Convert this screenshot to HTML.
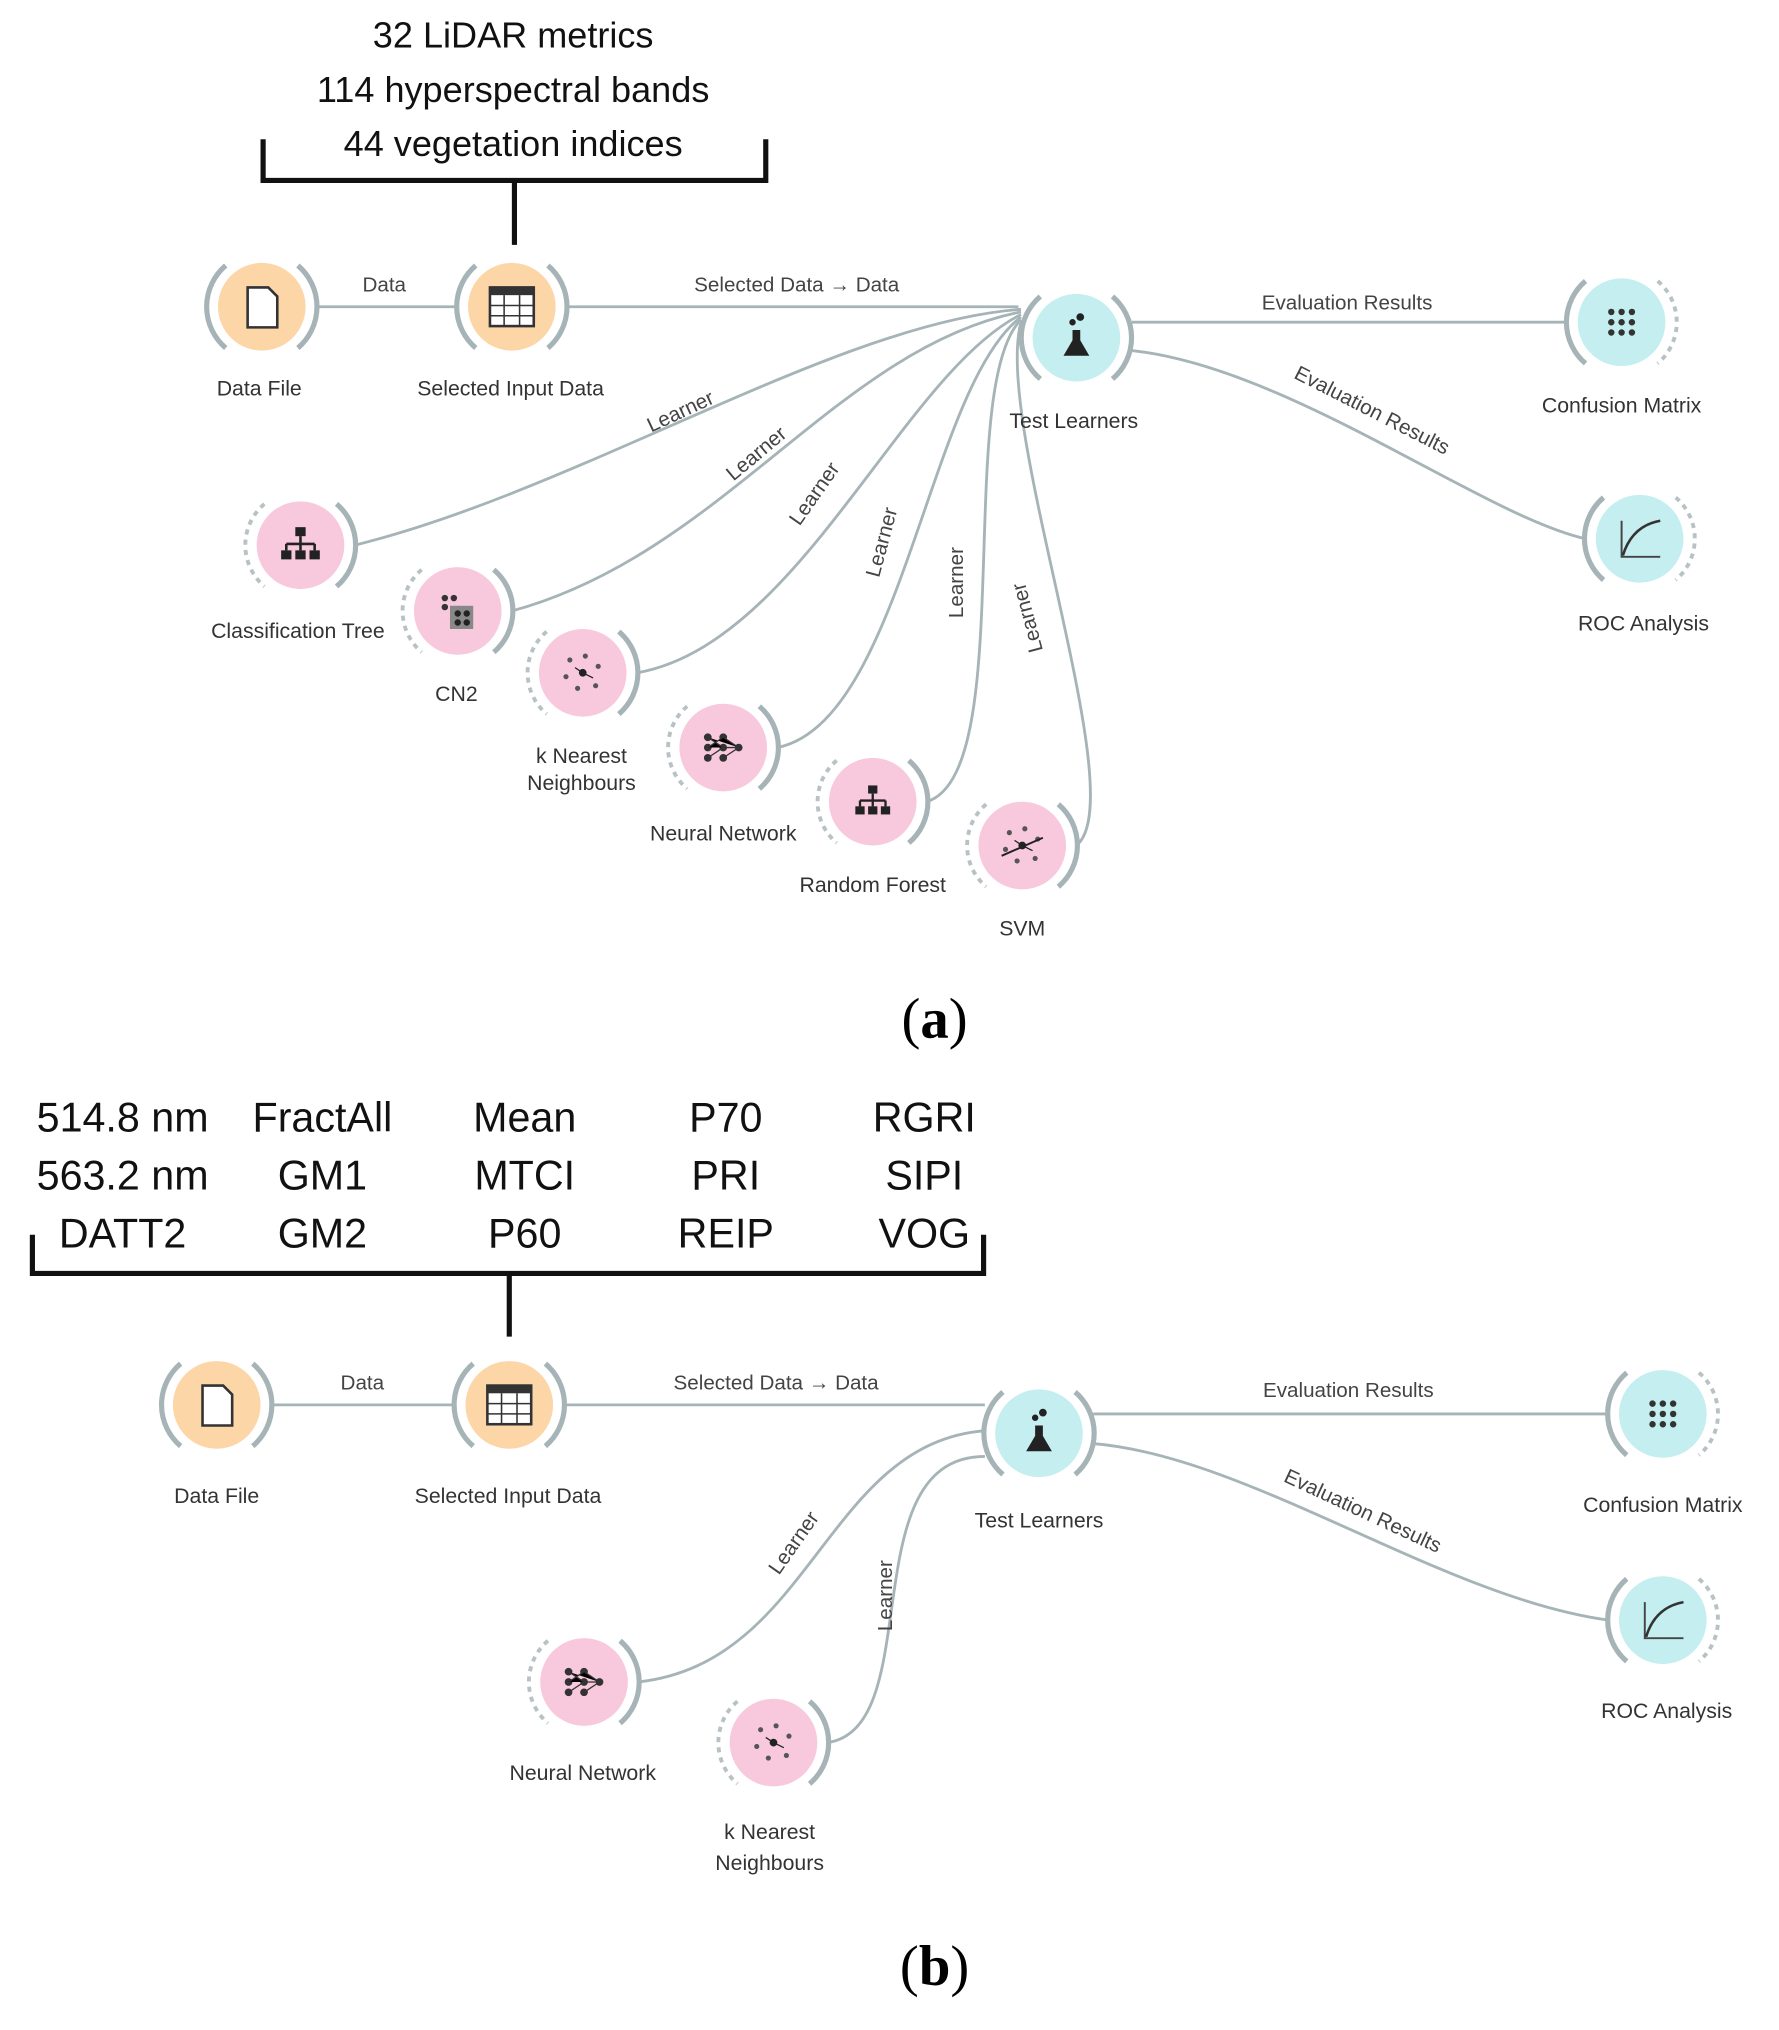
<!DOCTYPE html>
<html><head><meta charset="utf-8"><style>
html,body{margin:0;padding:0;background:#fff;}
svg{display:block}
.nl{font-family:"Liberation Sans",sans-serif;font-size:16.5px;fill:#333;text-anchor:middle}
.ll{font-family:"Liberation Sans",sans-serif;font-size:16px;fill:#444;text-anchor:middle}
.big{font-family:"Liberation Sans",sans-serif;font-size:28px;fill:#111;text-anchor:middle}
.big2{font-family:"Liberation Sans",sans-serif;font-size:32px;fill:#111;text-anchor:middle}
.cap{font-family:"Liberation Serif",serif;font-size:44px;fill:#000;text-anchor:middle}
.lk{fill:none;stroke:#a6b4b8;stroke-width:2.2}
.arc{fill:none;stroke:#a6b4b8;stroke-width:4}
.arcd{fill:none;stroke:#b8c2c5;stroke-width:3;stroke-dasharray:4 4}
.br{fill:none;stroke:#111;stroke-width:4}
</style></head><body>
<svg width="1779" height="2030" viewBox="0 0 1380 1575" xmlns="http://www.w3.org/2000/svg">
<defs>
<g id="node"><path class="arc" d="M-28,-32 A42,42 0 0 0 -28,32"/><path class="arc" d="M28,-32 A42,42 0 0 1 28,32"/></g>
<g id="nodeD"><path class="arcd" d="M-28,-32 A42,42 0 0 0 -28,32"/><path class="arc" d="M28,-32 A42,42 0 0 1 28,32"/></g>
<g id="nodeR"><path class="arc" d="M-28,-32 A42,42 0 0 0 -28,32"/><path class="arcd" d="M28,-32 A42,42 0 0 1 28,32"/></g>
<g id="file"><path d="M-11,-15 H5 L12,-8 V16 H-11 Z" fill="#fff" stroke="#333" stroke-width="2"/></g>
<g id="table"><rect x="-17" y="-15" width="34" height="30" fill="#fff" stroke="#333" stroke-width="2"/><rect x="-17" y="-15" width="34" height="6" fill="#333"/><path d="M-6,-9V15M6,-9V15M-17,-1H17M-17,7H17" stroke="#333" stroke-width="1.2"/></g>
<g id="flask"><path d="M-3,-6 V2 L-10,14 H10 L3,2 V-6 Z" fill="#222"/><circle cx="-3" cy="-12" r="2.5" fill="#222"/><circle cx="3" cy="-16" r="3" fill="#222"/></g>
<g id="dots"><circle cx="-8" cy="-8" r="2.5" fill="#333"/><circle cx="0" cy="-8" r="2.5" fill="#333"/><circle cx="8" cy="-8" r="2.5" fill="#333"/><circle cx="-8" cy="0" r="2.5" fill="#333"/><circle cx="0" cy="0" r="2.5" fill="#333"/><circle cx="8" cy="0" r="2.5" fill="#333"/><circle cx="-8" cy="8" r="2.5" fill="#333"/><circle cx="0" cy="8" r="2.5" fill="#333"/><circle cx="8" cy="8" r="2.5" fill="#333"/></g>
<g id="roc"><path d="M-14,-14 V14 H16" stroke="#444" fill="none" stroke-width="1.5"/><path d="M-13,13 Q-6,-10 16,-14" stroke="#333" fill="none" stroke-width="2"/></g>
<g id="tree"><rect x="-4" y="-14" width="8" height="7" fill="#222"/><path d="M0,-7V-1M-11,-1H11M-11,-1V4M0,-1V4M11,-1V4" stroke="#222" stroke-width="2" fill="none"/><rect x="-15" y="4" width="8" height="7" fill="#222"/><rect x="-4" y="4" width="8" height="7" fill="#222"/><rect x="7" y="4" width="8" height="7" fill="#222"/></g>
<g id="net"><g fill="#333"><circle cx="-12" cy="-8" r="3"/><circle cx="-12" cy="0" r="3"/><circle cx="-12" cy="8" r="3"/><circle cx="0" cy="-8" r="3"/><circle cx="0" cy="0" r="3"/><circle cx="0" cy="8" r="3"/><circle cx="12" cy="0" r="3"/></g><path d="M-12,-8L0,0L12,0M-12,8L0,0M-12,0L0,-8L12,0M0,8L12,0" stroke="#333" stroke-width="1"/></g>
<g id="knn"><g fill="#555"><circle cx="-10" cy="-10" r="2"/><circle cx="2" cy="-13" r="2"/><circle cx="12" cy="-5" r="2"/><circle cx="-13" cy="3" r="2"/><circle cx="10" cy="10" r="2"/><circle cx="-4" cy="12" r="2"/></g><circle cx="0" cy="0" r="3" fill="#222"/><path d="M0,0L8,4M0,0L-6,-4" stroke="#222"/></g>
</defs>

<!-- (a) bracket -->
<text class="big" x="398" y="37">32 LiDAR metrics</text>
<text class="big" x="398" y="79">114 hyperspectral bands</text>
<text class="big" x="398" y="121">44 vegetation indices</text>
<path class="br" d="M204,108 V140 H594 V108 M399,140 V190"/>

<!-- (a) links -->
<path class="lk" d="M245,238 H355"/><text class="ll" x="298" y="226">Data</text>
<path class="lk" d="M440,238 H790"/><text class="ll" x="618" y="226">Selected Data → Data</text>
<path class="lk" d="M878,250 H1215"/><text class="ll" x="1045" y="240">Evaluation Results</text>
<path class="lk" d="M878,272 C1000,285 1150,400 1230,418"/>
<text class="ll" transform="translate(1062,323) rotate(27)">Evaluation Results</text>
<path class="lk" d="M275,423 C450,380 650,250 792,240"/>
<path class="lk" d="M397,474 C560,430 650,270 792,242"/>
<path class="lk" d="M494,522 C620,500 700,290 792,244"/>
<path class="lk" d="M603,580 C700,560 720,300 792,246"/>
<path class="lk" d="M719,622 C790,600 740,300 792,248"/>
<path class="lk" d="M835,656 C880,620 770,330 792,250"/>
<text class="ll" transform="translate(530,324) rotate(-25)">Learner</text>
<text class="ll" transform="translate(590,356) rotate(-40)">Learner</text>
<text class="ll" transform="translate(636,386) rotate(-55)">Learner</text>
<text class="ll" transform="translate(689,422) rotate(-75)">Learner</text>
<text class="ll" transform="translate(747,452) rotate(-90)">Learner</text>
<text class="ll" transform="translate(802,478) rotate(-105)">Learner</text>

<!-- (a) nodes -->
<g transform="translate(203,238)"><circle r="34" fill="#fdd6a8"/><use href="#node"/><use href="#file"/></g>
<text class="nl" x="201" y="307">Data File</text>
<g transform="translate(397,238)"><circle r="34" fill="#fdd6a8"/><use href="#node"/><use href="#table"/></g>
<text class="nl" x="396" y="307">Selected Input Data</text>
<g transform="translate(835,262)"><circle r="34" fill="#c4eef0"/><use href="#node"/><use href="#flask"/></g>
<text class="nl" x="833" y="332">Test Learners</text>
<g transform="translate(1258,250)"><circle r="34" fill="#c4eef0"/><use href="#nodeR"/><use href="#dots"/></g>
<text class="nl" x="1258" y="320">Confusion Matrix</text>
<g transform="translate(1272,418)"><circle r="34" fill="#c4eef0"/><use href="#nodeR"/><use href="#roc"/></g>
<text class="nl" x="1275" y="489">ROC Analysis</text>
<g transform="translate(233,423)"><circle r="34" fill="#f8c9dc"/><use href="#nodeD"/><use href="#tree"/></g>
<text class="nl" x="231" y="495">Classification Tree</text>
<g transform="translate(355,474)"><circle r="34" fill="#f8c9dc"/><use href="#nodeD"/><rect x="-6" y="-4" width="18" height="18" fill="#888"/><circle cx="-10" cy="-10" r="2.5" fill="#333"/><circle cx="-3" cy="-10" r="2.5" fill="#333"/><circle cx="-10" cy="-3" r="2.5" fill="#333"/><circle cx="0" cy="2" r="2.5" fill="#222"/><circle cx="7" cy="2" r="2.5" fill="#222"/><circle cx="0" cy="9" r="2.5" fill="#222"/><circle cx="7" cy="9" r="2.5" fill="#222"/></g>
<text class="nl" x="354" y="544">CN2</text>
<g transform="translate(452,522)"><circle r="34" fill="#f8c9dc"/><use href="#nodeD"/><use href="#knn"/></g>
<text class="nl" x="451" y="592">k Nearest</text><text class="nl" x="451" y="613">Neighbours</text>
<g transform="translate(561,580)"><circle r="34" fill="#f8c9dc"/><use href="#nodeD"/><use href="#net"/></g>
<text class="nl" x="561" y="652">Neural Network</text>
<g transform="translate(677,622)"><circle r="34" fill="#f8c9dc"/><use href="#nodeD"/><use href="#tree" transform="scale(0.9)"/></g>
<text class="nl" x="677" y="692">Random Forest</text>
<g transform="translate(793,656)"><circle r="34" fill="#f8c9dc"/><use href="#nodeD"/><use href="#knn"/><path d="M-16,8 L16,-6" stroke="#222" stroke-width="1.5"/></g>
<text class="nl" x="793" y="726">SVM</text>

<text class="cap" x="725" y="805">(<tspan font-weight="bold">a</tspan>)</text>

<!-- (b) text grid -->
<text class="big2" x="95" y="878">514.8 nm</text><text class="big2" x="250" y="878">FractAll</text><text class="big2" x="407" y="878">Mean</text><text class="big2" x="563" y="878">P70</text><text class="big2" x="717" y="878">RGRI</text>
<text class="big2" x="95" y="923">563.2 nm</text><text class="big2" x="250" y="923">GM1</text><text class="big2" x="407" y="923">MTCI</text><text class="big2" x="563" y="923">PRI</text><text class="big2" x="717" y="923">SIPI</text>
<text class="big2" x="95" y="968">DATT2</text><text class="big2" x="250" y="968">GM2</text><text class="big2" x="407" y="968">P60</text><text class="big2" x="563" y="968">REIP</text><text class="big2" x="717" y="968">VOG</text>
<path class="br" d="M25,958 V988 H763 V958 M395,988 V1037"/>

<!-- (b) links -->
<path class="lk" d="M210,1090 H353"/><text class="ll" x="281" y="1078">Data</text>
<path class="lk" d="M437,1090 H764"/><text class="ll" x="602" y="1078">Selected Data → Data</text>
<path class="lk" d="M848,1097 H1248"/><text class="ll" x="1046" y="1084">Evaluation Results</text>
<path class="lk" d="M848,1120 C970,1130 1120,1240 1248,1257"/>
<text class="ll" transform="translate(1055,1177) rotate(25)">Evaluation Results</text>
<path class="lk" d="M495,1305 C630,1290 640,1120 764,1110"/>
<path class="lk" d="M642,1352 C720,1340 660,1130 764,1130"/>
<text class="ll" transform="translate(620,1200) rotate(-55)">Learner</text>
<text class="ll" transform="translate(692,1238) rotate(-90)">Learner</text>

<!-- (b) nodes -->
<g transform="translate(168,1090)"><circle r="34" fill="#fdd6a8"/><use href="#node"/><use href="#file"/></g>
<text class="nl" x="168" y="1166">Data File</text>
<g transform="translate(395,1090)"><circle r="34" fill="#fdd6a8"/><use href="#node"/><use href="#table"/></g>
<text class="nl" x="394" y="1166">Selected Input Data</text>
<g transform="translate(806,1112)"><circle r="34" fill="#c4eef0"/><use href="#node"/><use href="#flask"/></g>
<text class="nl" x="806" y="1185">Test Learners</text>
<g transform="translate(1290,1097)"><circle r="34" fill="#c4eef0"/><use href="#nodeR"/><use href="#dots"/></g>
<text class="nl" x="1290" y="1173">Confusion Matrix</text>
<g transform="translate(1290,1257)"><circle r="34" fill="#c4eef0"/><use href="#nodeR"/><use href="#roc"/></g>
<text class="nl" x="1293" y="1333">ROC Analysis</text>
<g transform="translate(453,1305)"><circle r="34" fill="#f8c9dc"/><use href="#nodeD"/><use href="#net"/></g>
<text class="nl" x="452" y="1381">Neural Network</text>
<g transform="translate(600,1352)"><circle r="34" fill="#f8c9dc"/><use href="#nodeD"/><use href="#knn"/></g>
<text class="nl" x="597" y="1427">k Nearest</text><text class="nl" x="597" y="1451">Neighbours</text>

<text class="cap" x="725" y="1540">(<tspan font-weight="bold">b</tspan>)</text>
</svg>
</body></html>
